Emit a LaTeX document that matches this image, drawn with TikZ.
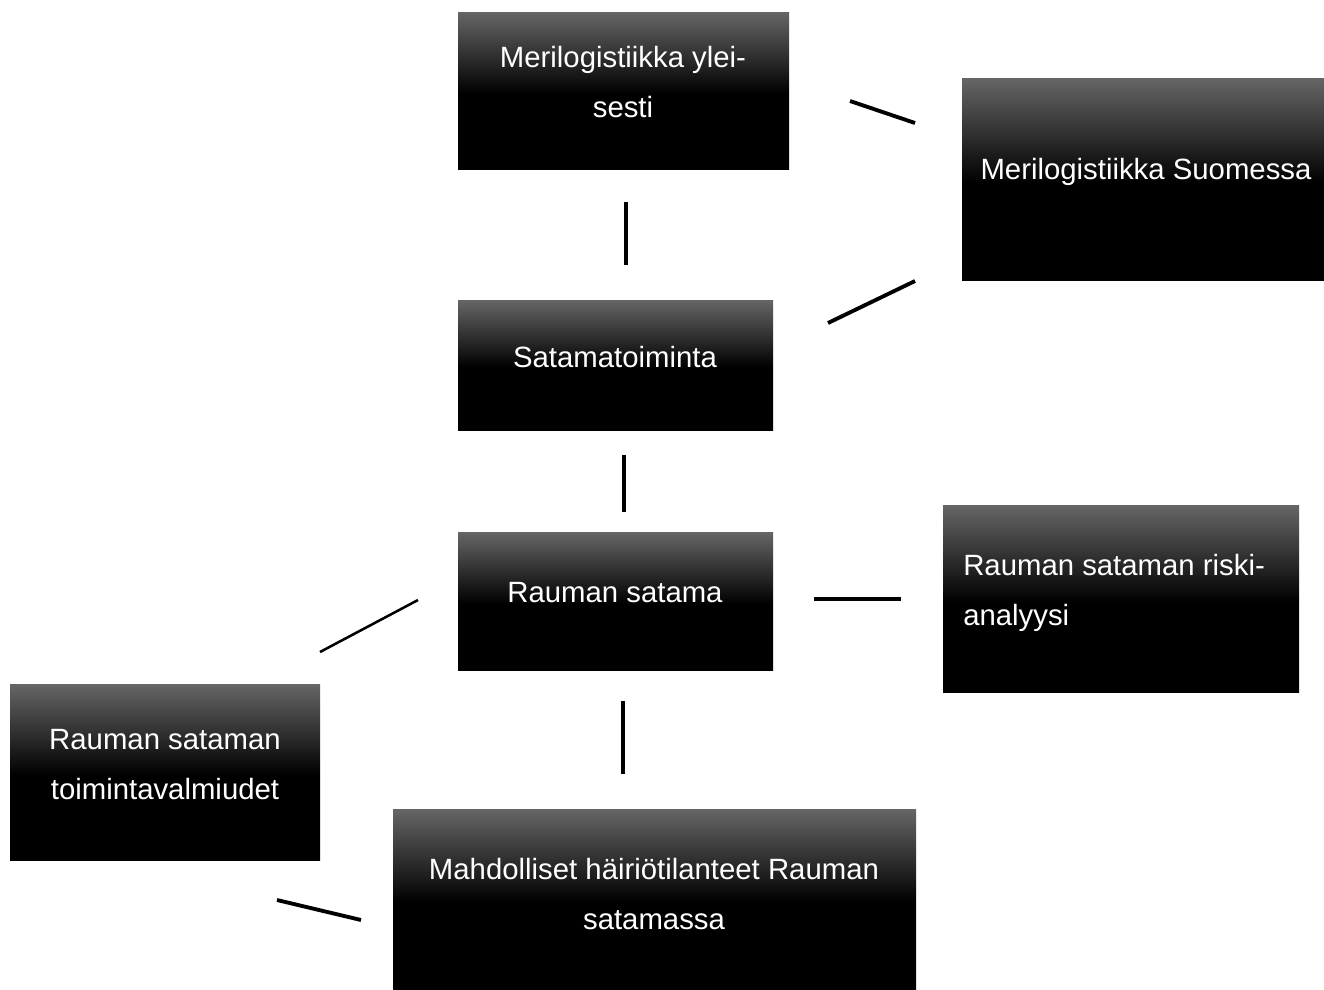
\documentclass[tikz,border=0pt]{standalone}
\usepackage{fontspec}
\setmainfont{Liberation Sans}
\definecolor{gtop}{HTML}{666666}
\pgfdeclareverticalshading{boxgrad}{100bp}{color(0bp)=(black); color(25bp)=(black); color(49bp)=(black); color(75bp)=(gtop); color(100bp)=(gtop)}
\begin{document}
\begin{tikzpicture}[x=0.75pt,y=-0.75pt,
  box/.style={draw=none,shading=boxgrad,rectangle,inner sep=0pt},
  txt/.style={text=white,font=\fontsize{22}{37.5}\selectfont,inner sep=0pt},
  link/.style={draw=black,line width=2.9pt}]
\useasboundingbox (0,0) rectangle (1324,989);
\fill[white] (0,0) rectangle (1324,989);
% boxes
\shade[box] (458,12) rectangle (789,169);
\node[inner sep=0pt,minimum width=331*0.75pt,minimum height=157*0.75pt] (b1) at (623.5,90.5) {};
\shade[box] (962,78) rectangle (1324,280);
\node[inner sep=0pt,minimum width=362*0.75pt,minimum height=202*0.75pt] (b2) at (1143,179) {};
\shade[box] (458,300) rectangle (773,430);
\node[inner sep=0pt,minimum width=315*0.75pt,minimum height=130*0.75pt] (b3) at (615.5,365) {};
\shade[box] (458,532) rectangle (773,670);
\node[inner sep=0pt,minimum width=315*0.75pt,minimum height=138*0.75pt] (b4) at (615.5,601) {};
\shade[box] (943,505) rectangle (1299,692);
\node[inner sep=0pt,minimum width=356*0.75pt,minimum height=187*0.75pt] (b5) at (1121,598.5) {};
\shade[box] (10,684) rectangle (320,860);
\node[inner sep=0pt,minimum width=310*0.75pt,minimum height=176*0.75pt] (b6) at (165,772) {};
\shade[box] (393,809) rectangle (916,989);
\node[inner sep=0pt,minimum width=523*0.75pt,minimum height=180*0.75pt] (b7) at (654.5,899) {};
% texts
\node[txt,align=center] (t1) at (623,82.5) {Merilogistiikka ylei-\\sesti};
\node[txt] (t2) at (1146,172) {Merilogistiikka Suomessa};
\node[txt] (t3) at (615,357) {Satamatoiminta};
\node[txt] (t4) at (615,593) {Rauman satama};
\node[txt,align=left,anchor=west] (t5) at (963,593) {Rauman sataman riski-\\analyysi};
\node[txt,align=center] (t6) at (165,764.5) {Rauman sataman\\toimintavalmiudet};
\node[txt,align=center] (t7) at (654,894.5) {Mahdolliset häiriötilanteet Rauman\\satamassa};
% connector end points
\coordinate (c1a) at (850,101); \coordinate (c1b) at (915,123);
\coordinate (c2a) at (626,202); \coordinate (c2b) at (626,265);
\coordinate (c3a) at (828,323); \coordinate (c3b) at (915,281);
\coordinate (c4a) at (624,455); \coordinate (c4b) at (624,512);
\coordinate (c5a) at (814,599); \coordinate (c5b) at (901,599);
\coordinate (c6a) at (418,600); \coordinate (c6b) at (320,652);
\coordinate (c7a) at (623,701); \coordinate (c7b) at (623,774);
\coordinate (c8a) at (277,900); \coordinate (c8b) at (361,920);
\draw[link] (c1a) -- (c1b);
\draw[link] (c2a) -- (c2b);
\draw[link] (c3a) -- (c3b);
\draw[link] (c4a) -- (c4b);
\draw[link] (c5a) -- (c5b);
\draw[link,line width=1.9pt] (c6a) -- (c6b);
\draw[link] (c7a) -- (c7b);
\draw[link] (c8a) -- (c8b);
\end{tikzpicture}
\end{document}
